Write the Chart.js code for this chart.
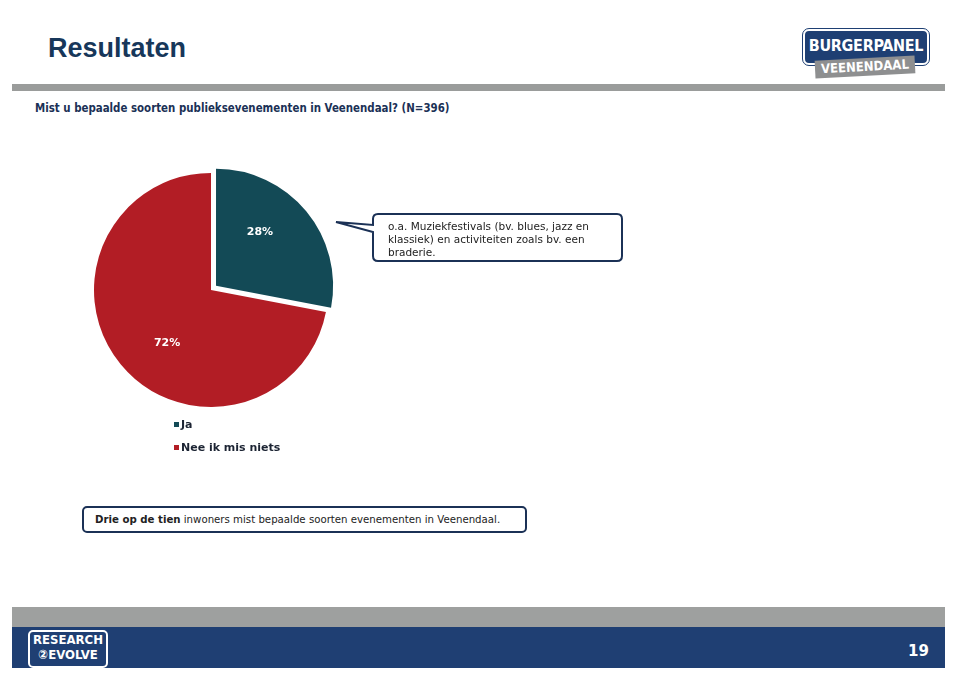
<!DOCTYPE html>
<html>
<head>
<meta charset="utf-8">
<script src="https://cdn.jsdelivr.net/npm/chart.js@4.4.0/dist/chart.umd.min.js"></script>
<style>
  body { margin: 0; width: 960px; height: 679px; background: #fff; position: relative; overflow: hidden; font-family: "DejaVu Sans", Verdana, sans-serif; }
  .abs { position: absolute; }
  #title { left: 48px; top: 33px; font: bold 27px "Liberation Sans", Arial, sans-serif; color: #17375a; }
  #topbar { left: 12px; top: 84px; width: 933px; height: 7px; background: #9a9c9b; }
  #question { left: 35px; top: 101px; font: bold 11.4px "DejaVu Sans Condensed", "DejaVu Sans", sans-serif; color: #1b3156; white-space: nowrap; }
  #bp { left: 803px; top: 29px; width: 122px; height: 32px; background: #1e3f73; border: 2px solid #fff; outline: 1px solid #1e3f73; border-radius: 6px; color: #fff; font: bold 16px "DejaVu Sans Condensed", sans-serif; text-align: center; line-height: 30px; letter-spacing: -0.3px; }
  #vd { left: 815px; top: 58px; width: 100px; height: 18px; background: #8e8f90; color: #fff; font: bold 13px "DejaVu Sans Condensed", sans-serif; text-align: center; line-height: 18px; transform: rotate(-3deg); }
  #callout { left: 334px; top: 211px; }
  #note { left: 82px; top: 506px; width: 430px; height: 23px; border: 2px solid #1b3156; border-radius: 5px; font-size: 10.2px; color: #222; line-height: 23px; padding-left: 11px; box-sizing: content-box; white-space: nowrap; }
  #graybar { left: 12px; top: 607px; width: 933px; height: 20px; background: #9ea09f; }
  #bluebar { left: 12px; top: 627px; width: 933px; height: 41px; background: #1f3f73; }
  #r2e { left: 28px; top: 630px; width: 76px; height: 34px; border: 2px solid #fff; border-radius: 5px; color: #fff; font: bold 13px "DejaVu Sans Condensed", sans-serif; line-height: 15px; text-align: center; }
  #page { left: 908px; top: 642px; color: #fff; font: bold 15px "DejaVu Sans", sans-serif; }
  #pie { left: 70px; top: 150px; }
</style>
</head>
<body>
<div class="abs" id="title">Resultaten</div>
<div class="abs" id="bp">BURGERPANEL</div>
<div class="abs" id="vd">VEENENDAAL</div>
<div class="abs" id="topbar"></div>
<div class="abs" id="question">Mist u bepaalde soorten publieksevenementen in Veenendaal? (N=396)</div>

<canvas class="abs" id="pie" width="320" height="320"></canvas>

<svg class="abs" id="callout" width="292" height="55">
  <path d="M 44 3 L 283 3 Q 288 3 288 8 L 288 45 Q 288 50 283 50 L 44 50 Q 39 50 39 45 L 39 21 L 2 11 L 39 14 L 39 8 Q 39 3 44 3 Z" fill="#fff" stroke="#1b3156" stroke-width="2"/>
  <text x="54" y="19" font-family="DejaVu Sans" font-size="10.5" fill="#222">o.a. Muziekfestivals (bv. blues, jazz en</text>
  <text x="54" y="32" font-family="DejaVu Sans" font-size="10.5" fill="#222">klassiek) en activiteiten zoals bv. een</text>
  <text x="54" y="45" font-family="DejaVu Sans" font-size="10.5" fill="#222">braderie.</text>
</svg>

<div class="abs" id="note"><b>Drie op de tien</b> inwoners mist bepaalde soorten evenementen in Veenendaal.</div>

<div class="abs" id="graybar"></div>
<div class="abs" id="bluebar"></div>
<div class="abs" id="r2e">RESEARCH<br>②EVOLVE</div>
<div class="abs" id="page">19</div>

<script>
// Mist u bepaalde soorten publieksevenementen? (N=396)
const categories = ['Ja', 'Nee ik mis niets'];
const shares = [28, 72];
const sliceColors = ['#134a56', '#b21d25'];

// percentages inside the slices
const sliceLabels = {
    id: 'sliceLabels',
    afterDatasetsDraw(chart) {
        const ctx = chart.ctx;
        const meta = chart.getDatasetMeta(0);
        ctx.save();
        ctx.font = 'bold 11px "DejaVu Sans"';
        ctx.fillStyle = '#fff';
        ctx.textAlign = 'center';
        ctx.textBaseline = 'middle';
        meta.data.forEach((arc, i) => {
            const mid = (arc.startAngle + arc.endAngle) / 2;
            const shift = (arc.options.offset || 0) / 4;
            const cx = arc.x + Math.cos(mid) * shift;
            const cy = arc.y + Math.sin(mid) * shift;
            const a = mid - 0.19;
            const r = arc.outerRadius * 0.59;
            ctx.fillText(shares[i] + '%', cx + Math.cos(a) * r, cy + Math.sin(a) * r);
        });
        ctx.restore();
    }
};

// stacked legend under the pie
const stackedLegend = {
    id: 'stackedLegend',
    afterDraw(chart) {
        const ctx = chart.ctx;
        const area = chart.chartArea;
        const items = chart.options.plugins.legend.labels.generateLabels(chart);
        ctx.save();
        ctx.font = 'bold 11px "DejaVu Sans"';
        ctx.textBaseline = 'middle';
        items.forEach((item, i) => {
            const x = area.left + 93;
            const y = area.bottom + 5 + i * 23;
            ctx.fillStyle = item.fillStyle;
            ctx.fillRect(x, y - 3, 5, 5);
            ctx.fillStyle = '#1c2433';
            ctx.fillText(item.text, x + 7, y);
        });
        ctx.restore();
    }
};

const ctx = document.getElementById('pie').getContext('2d');
new Chart(ctx, {
    type: 'pie',
    data: {
        labels: categories,
        datasets: [{
            data: shares,
            backgroundColor: sliceColors,
            borderWidth: 0,
            offset: [26, 0]
        }]
    },
    options: {
        responsive: false,
        animation: false,
        layout: { padding: { left: 11, top: 10, right: 49, bottom: 50 } },
        plugins: {
            legend: { display: false },
            tooltip: { enabled: false }
        }
    },
    plugins: [sliceLabels, stackedLegend]
});
</script>
</body>
</html>
